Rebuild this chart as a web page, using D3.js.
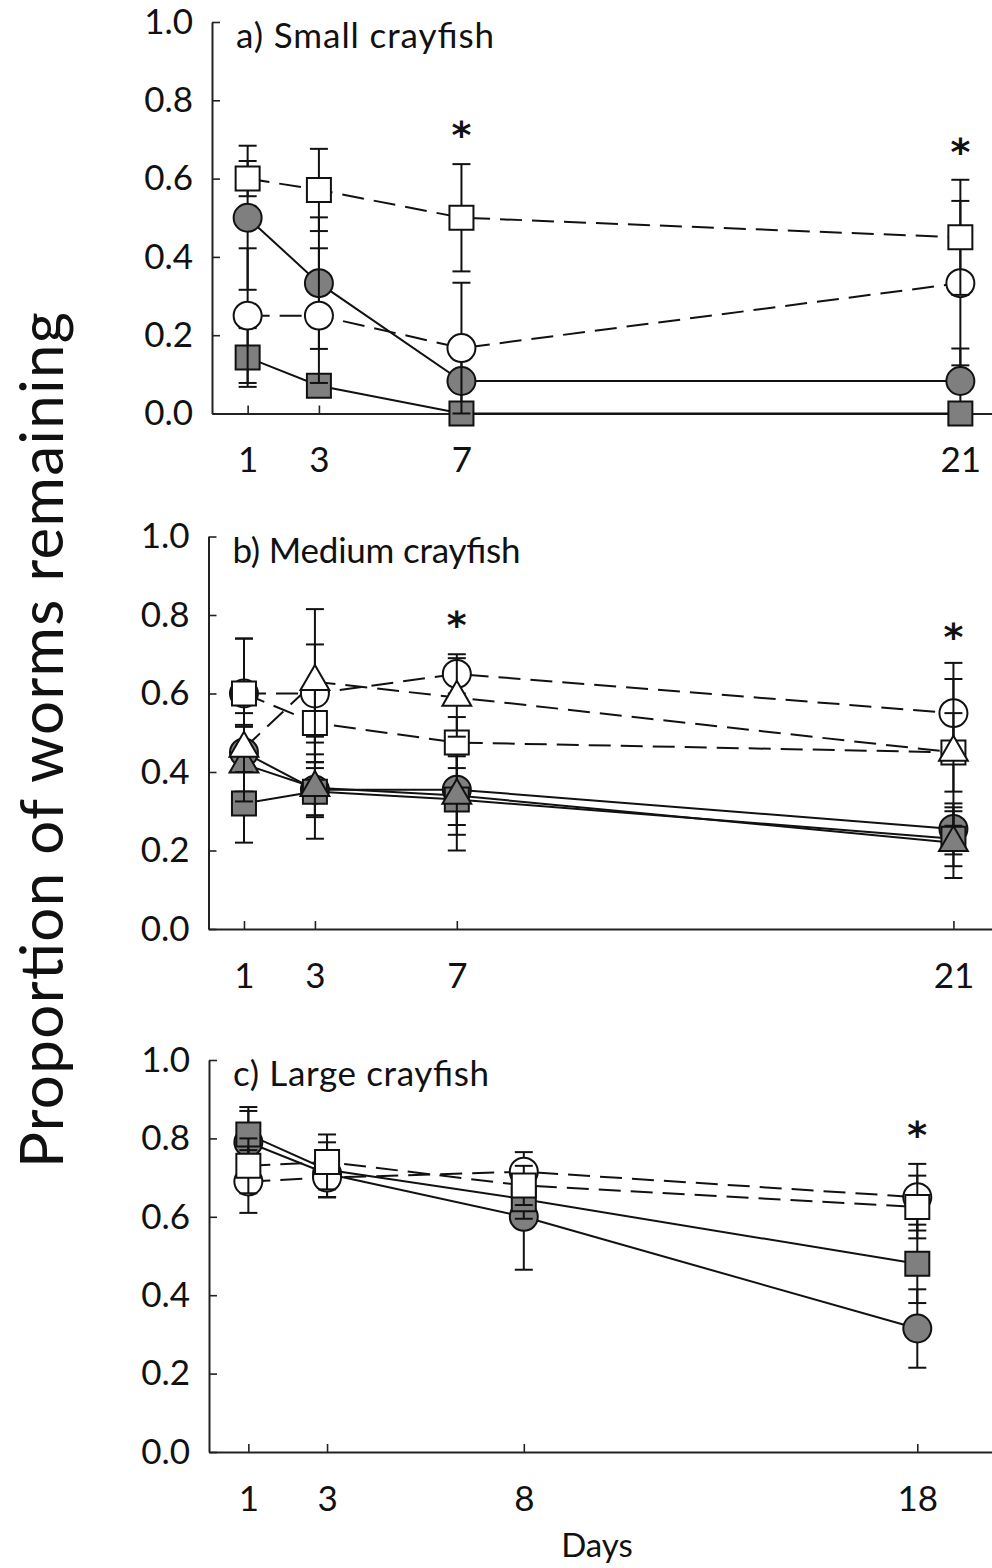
<!DOCTYPE html>
<html>
<head>
<meta charset="utf-8">
<script src="https://cdn.jsdelivr.net/npm/d3@7"></script>
<style>
    body { margin: 0; background: #fff; }
    text { font-family: Lato, "Open Sans", sans-serif; fill: #111; }
</style>
</head>
<body>
<script>
// one row per panel: a) small, b) medium, c) large
const panelTitles = ["a) Small crayfish", "b) Medium crayfish", "c) Large crayfish"];
const panelDays = [[1, 3, 7, 21], [1, 3, 7, 21], [1, 3, 8, 18]];
const yTicks = [0, 0.2, 0.4, 0.6, 0.8, 1.0];

const openSquare = [[0.60, 0.571, 0.50, 0.45], [0.60, 0.525, 0.475, 0.45], [0.73, 0.74, 0.68, 0.625]];
const openSquareSE = [[0.045, 0.105, 0.137, 0.147], [0.14, 0.10, 0.065, 0.10], [0.07, 0.07, 0.05, 0.08]];

const openCircle = [[0.25, 0.25, 0.167, 0.333], [0.60, 0.60, 0.65, 0.55], [0.69, 0.70, 0.715, 0.65]];
const openCircleSE = [[0.172, 0.172, 0.167, 0.21], [0.14, 0.125, 0.05, 0.128], [0.08, 0.05, 0.05, 0.085]];

const openTriangle = [null, [0.46, 0.63, 0.59, 0.45], null];
const openTriangleSE = [null, [0.06, 0.185, 0.10, 0.187], null];

const filledCircle = [[0.50, 0.333, 0.083, 0.083], [0.45, 0.355, 0.355, 0.255], [0.79, 0.71, 0.60, 0.315]];
const filledCircleSE = [[0.184, 0.168, 0.083, 0.083], [0.10, 0.07, 0.09, 0.065], [0.09, 0.06, 0.135, 0.10]];

const filledSquare = [[0.143, 0.071, 0, 0], [0.32, 0.35, 0.33, 0.23], [0.81, 0.72, 0.645, 0.48]];
const filledSquareSE = [[0.075, 0.01, 0, 0], [0.10, 0.06, 0.13, 0.07], [0.06, 0.07, 0.05, 0.10]];

const filledTriangle = [null, [0.42, 0.36, 0.34, 0.22], null];
const filledTriangleSE = [null, [0.095, 0.13, 0.10, 0.09], null];

// significance asterisks (day, height in y units)
const starDays = [[7, 21], [7, 21], [18]];
const starLevels = [[0.724, 0.681], [0.787, 0.757], [0.821]];

const gray = "#7f7f7f";

const series = [
    { means: filledCircle, se: filledCircleSE, shape: d3.symbolCircle, size: 615, fill: gray, dash: null },
    { means: filledSquare, se: filledSquareSE, shape: d3.symbolSquare, size: 576, fill: gray, dash: null },
    { means: filledTriangle, se: filledTriangleSE, shape: d3.symbolTriangle, size: 360, fill: gray, dash: null },
    { means: openCircle, se: openCircleSE, shape: d3.symbolCircle, size: 615, fill: "#fff", dash: "22,10" },
    { means: openSquare, se: openSquareSE, shape: d3.symbolSquare, size: 576, fill: "#fff", dash: "22,10" },
    { means: openTriangle, se: openTriangleSE, shape: d3.symbolTriangle, size: 360, fill: "#fff", dash: "22,10" }
];

const layout = [
    { top: 22, bottom: 413.5, left: 212, xMax: 22 },
    { top: 536.5, bottom: 929, left: 208.5, xMax: 22.2 },
    { top: 1060, bottom: 1452, left: 209, xMax: 20 }
];

const W = 992, H = 1568;
const svg = d3.select("body").append("svg").attr("width", W).attr("height", H);

const drawPanel = (p) => {
    const L = layout[p];
    const days = panelDays[p];
    const x = d3.scaleLinear([0, L.xMax], [L.left, 996]);
    const y = d3.scaleLinear([0, 1], [L.bottom, L.top]);
    const g = svg.append("g");

    const yAxis = g.append("g")
        .attr("transform", `translate(${L.left},0)`)
        .call(d3.axisLeft(y).tickValues(yTicks).tickFormat(d3.format(".1f"))
            .tickSizeInner(-8).tickSizeOuter(0).tickPadding(19));

    const xAxis = g.append("g")
        .attr("transform", `translate(0,${L.bottom})`)
        .call(d3.axisBottom(x).tickValues(days).tickFormat(d3.format("d"))
            .tickSizeInner(-8).tickSizeOuter(0).tickPadding(34));

    [xAxis, yAxis].forEach(a => {
        a.select(".domain").attr("stroke", "#222").attr("stroke-width", 2);
        a.selectAll(".tick line").attr("stroke", "#222").attr("stroke-width", 1.6);
        a.selectAll("text").style("font-size", "35px").attr("fill", "#111");
    });

    g.append("text")
        .attr("x", L.left + 24)
        .attr("y", L.top + 26)
        .style("font-size", "35px")
        .attr("textLength", 258 + (p === 1 ? 30 : p === 2 ? -2 : 0))
        .text(panelTitles[p]);

    const line = d3.line().x((d, i) => x(days[i])).y(d => y(d));

    // connecting lines first, behind all symbols
    series.forEach(s => {
        if (!s.means[p]) return;
        g.append("path")
            .attr("d", line(s.means[p]))
            .attr("fill", "none")
            .attr("stroke", "#111")
            .attr("stroke-width", 2)
            .attr("stroke-dasharray", s.dash);
    });

    series.forEach(s => {
        if (!s.means[p]) return;
        const pts = s.means[p].map((m, i) => ({ day: days[i], m: m, se: s.se[p][i] }));

        const bars = g.append("g").selectAll("g").data(pts.filter(d => d.se > 0)).enter().append("g")
            .attr("stroke", "#111").attr("stroke-width", 2);
        bars.append("line")
            .attr("x1", d => x(d.day)).attr("x2", d => x(d.day))
            .attr("y1", d => y(d.m - d.se)).attr("y2", d => y(d.m + d.se));
        [-1, 1].forEach(sign => {
            bars.append("line")
                .attr("x1", d => x(d.day) - 9).attr("x2", d => x(d.day) + 9)
                .attr("y1", d => y(d.m + sign * d.se)).attr("y2", d => y(d.m + sign * d.se));
        });

        g.append("g").selectAll("path").data(pts).enter().append("path")
            .attr("transform", d => `translate(${x(d.day)},${y(d.m)})`)
            .attr("d", d3.symbol().type(s.shape).size(s.size))
            .attr("fill", s.fill)
            .attr("stroke", "#111")
            .attr("stroke-width", 2);
    });

    g.selectAll(".star").data(starDays[p]).enter().append("text")
        .attr("class", "star")
        .attr("x", d => x(d))
        .attr("y", (d, i) => y(starLevels[p][i]) + 18)
        .attr("text-anchor", "middle")
        .style("font-family", "'DejaVu Sans', sans-serif")
        .style("font-size", "38px")
        .style("font-weight", "bold")
        .text("*");
};

[0, 1, 2].forEach(drawPanel);

svg.append("text")
    .attr("transform", "translate(63,740) rotate(-90)")
    .attr("text-anchor", "middle")
    .attr("textLength", 856)
    .style("font-size", "60px")
    .text("Proportion of worms remaining");

svg.append("text")
    .attr("x", 597)
    .attr("y", 1557)
    .attr("text-anchor", "middle")
    .style("font-size", "33px")
    .text("Days");
</script>
</body>
</html>
